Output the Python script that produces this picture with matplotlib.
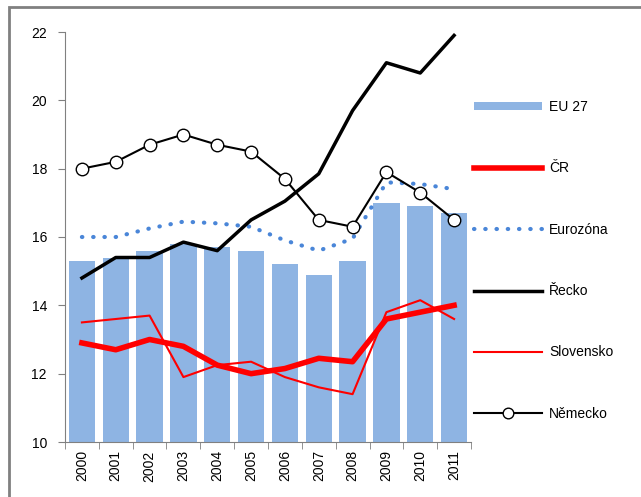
import numpy as np
import matplotlib.pyplot as plt
from matplotlib.patches import Rectangle

plt.rcParams['font.family'] = ['Liberation Sans', 'DejaVu Sans']

years = ['2000', '2001', '2002', '2003', '2004', '2005', '2006', '2007', '2008', '2009', '2010', '2011']
eu27 = [15.3, 15.4, 15.6, 15.8, 15.7, 15.6, 15.2, 14.9, 15.3, 17.0, 16.9, 16.7]
cr = [12.9, 12.7, 13.0, 12.8, 12.25, 12.0, 12.15, 12.45, 12.35, 13.6, 13.8, 14.0]
eurozona = [16.0, 16.0, 16.25, 16.45, 16.4, 16.3, 15.9, 15.6, 15.95, 17.6, 17.55, 17.4]
recko = [14.8, 15.4, 15.4, 15.85, 15.6, 16.5, 17.05, 17.85, 19.7, 21.1, 20.8, 21.9]
slovensko = [13.5, 13.6, 13.7, 11.9, 12.25, 12.35, 11.9, 11.6, 11.4, 13.8, 14.15, 13.6]
nemecko = [18.0, 18.2, 18.7, 19.0, 18.7, 18.5, 17.7, 16.5, 16.3, 17.9, 17.3, 16.5]

x = np.arange(len(years))

fig = plt.figure(figsize=(6.41, 4.97), dpi=100)
ax = fig.add_axes([65 / 641, 1 - 442 / 497, 406 / 641, 410 / 497])

bars = ax.bar(x, eu27, width=0.78, color='#8EB4E3', label='EU 27', zorder=1)
l_cr, = ax.plot(x, cr, color='#FF0000', lw=4, solid_joinstyle='round', label='ČR', zorder=3)
l_ez, = ax.plot(x, eurozona, color='#4A86D8', lw=3, linestyle=(0, (0.1, 2.6)),
                dash_capstyle='round', label='Eurozóna', zorder=2)
l_gr, = ax.plot(x, recko, color='black', lw=2.5, label='Řecko', zorder=3)
l_sk, = ax.plot(x, slovensko, color='#FF0000', lw=1.5, label='Slovensko', zorder=3)
l_de, = ax.plot(x, nemecko, color='black', lw=1.5, marker='o', markersize=9,
                markerfacecolor='white', markeredgecolor='black', markeredgewidth=1,
                label='Německo', zorder=4)

ax.set_xlim(-0.5, len(years) - 0.5)
ax.set_ylim(10, 22)
ax.set_yticks(np.arange(10, 23, 2))
ax.set_xticks(x)
ax.set_xticklabels(years, rotation=90, fontsize=10)
ax.tick_params(axis='x', length=0, pad=6)
ax.set_xticks(np.arange(-0.5, len(years)), minor=True)
ax.tick_params(axis='x', which='minor', length=5, color='#808080')
ax.tick_params(axis='y', length=5, color='#808080', labelsize=10, pad=8)

for side in ['top', 'right']:
    ax.spines[side].set_visible(False)
for side in ['left', 'bottom']:
    ax.spines[side].set_color('#808080')

handles = [bars, l_cr, l_ez, l_gr, l_sk, l_de]
ax.legend(handles=handles, labels=[h.get_label() for h in handles],
          loc='upper left', bbox_to_anchor=(474 / 641, 1 - 100 / 497), bbox_transform=fig.transFigure,
          frameon=False, fontsize=10, handlelength=4.9, handletextpad=0.5, labelspacing=3.41,
          borderaxespad=0, borderpad=0, markerscale=0.85, handleheight=0.5)

# outer chart frame
fig.patches.append(Rectangle((9 / 641, -0.1), 1.2, 1.1 - 7 / 497, transform=fig.transFigure,
                             fill=False, edgecolor='#808080', lw=2))

fig.savefig('out.png', dpi=100)
